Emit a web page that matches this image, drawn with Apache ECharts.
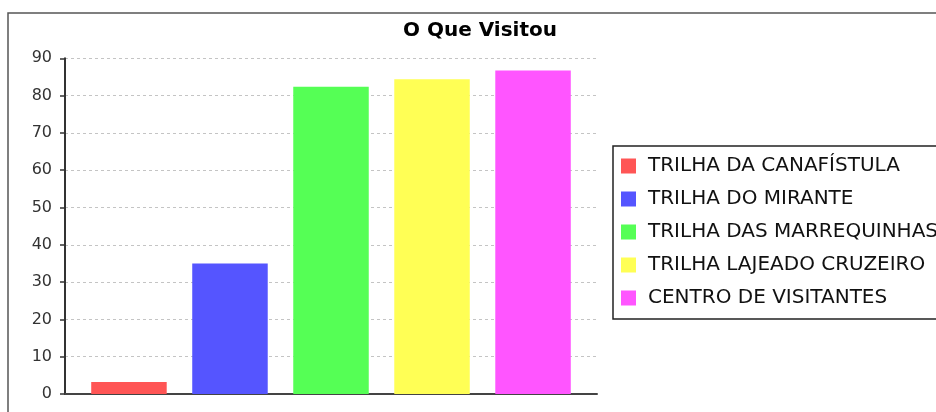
<!DOCTYPE html>
<html>
<head>
<meta charset="utf-8">
<script src="https://cdn.jsdelivr.net/npm/echarts@6/dist/echarts.min.js"></script>
<style>
  html, body { margin: 0; padding: 0; background: #fff; }
  #chart { width: 936px; height: 412px; }
</style>
</head>
<body>
<div id="chart"></div>
<script>
const titleText = 'O Que Visitou';
const categories = [''];
const seriesNames = ['TRILHA DA CANAFÍSTULA', 'TRILHA DO MIRANTE', 'TRILHA DAS MARREQUINHAS', 'TRILHA LAJEADO CRUZEIRO', 'CENTRO DE VISITANTES'];
const seriesValues = [3.2, 35, 82.4, 84.4, 86.7];
const seriesColors = ['#ff5555', '#5555ff', '#55ff55', '#ffff55', '#ff55ff'];
const yMin = 0, yMax = 90, yInterval = 10;

const chart = echarts.init(document.getElementById('chart'), null, { renderer: 'canvas' });

const series = seriesNames.map((name, i) => ({
  type: 'bar',
  name: name,
  data: [seriesValues[i]],
  barWidth: 75.5,
  barGap: '33.8%',
  itemStyle: { color: seriesColors[i] },
  emphasis: { disabled: true }
}));

chart.setOption({
  animation: false,
  backgroundColor: '#ffffff',
  title: {
    text: titleText,
    left: 403,
    top: 21,
    padding: 0,
    textStyle: { fontFamily: 'DejaVu Sans', fontWeight: 'bold', fontSize: 20, color: '#000' }
  },
  graphic: [{
    type: 'rect',
    shape: { x: 8, y: 13, width: 1000, height: 500 },
    style: { fill: 'none', stroke: '#555', lineWidth: 1.5 },
    silent: true
  }],
  legend: {
    orient: 'vertical',
    left: 613,
    top: 146,
    padding: [10, 60, 11, 8],
    itemWidth: 15,
    itemHeight: 15,
    itemGap: 13,
    icon: 'rect',
    borderColor: '#222',
    borderWidth: 1.5,
    backgroundColor: '#fff',
    selectedMode: false,
    textStyle: { fontFamily: 'DejaVu Sans', fontSize: 20, lineHeight: 20, color: '#111', padding: [0, 0, 0, 7] },
    data: seriesNames
  },
  grid: {
    left: 65, top: 58.3, right: 339, bottom: 18,
    containLabel: false,
    outerBoundsMode: 'none'
  },
  xAxis: {
    type: 'category',
    data: categories,
    axisLine: { show: true, lineStyle: { color: '#444', width: 2 } },
    axisTick: { show: false },
    axisLabel: { show: false },
    splitLine: { show: false }
  },
  yAxis: {
    type: 'value',
    min: yMin, max: yMax, interval: yInterval,
    axisLine: { show: true, lineStyle: { color: '#333', width: 2 } },
    axisTick: { show: true, length: 5, lineStyle: { color: '#333', width: 1.5 } },
    axisLabel: { margin: 13, fontFamily: 'DejaVu Sans', fontSize: 16, color: '#333' },
    splitLine: { show: true, lineStyle: { color: '#c4c4c4', width: 1, type: [3, 3] } }
  },
  tooltip: { show: false },
  series: series
});
</script>
</body>
</html>
